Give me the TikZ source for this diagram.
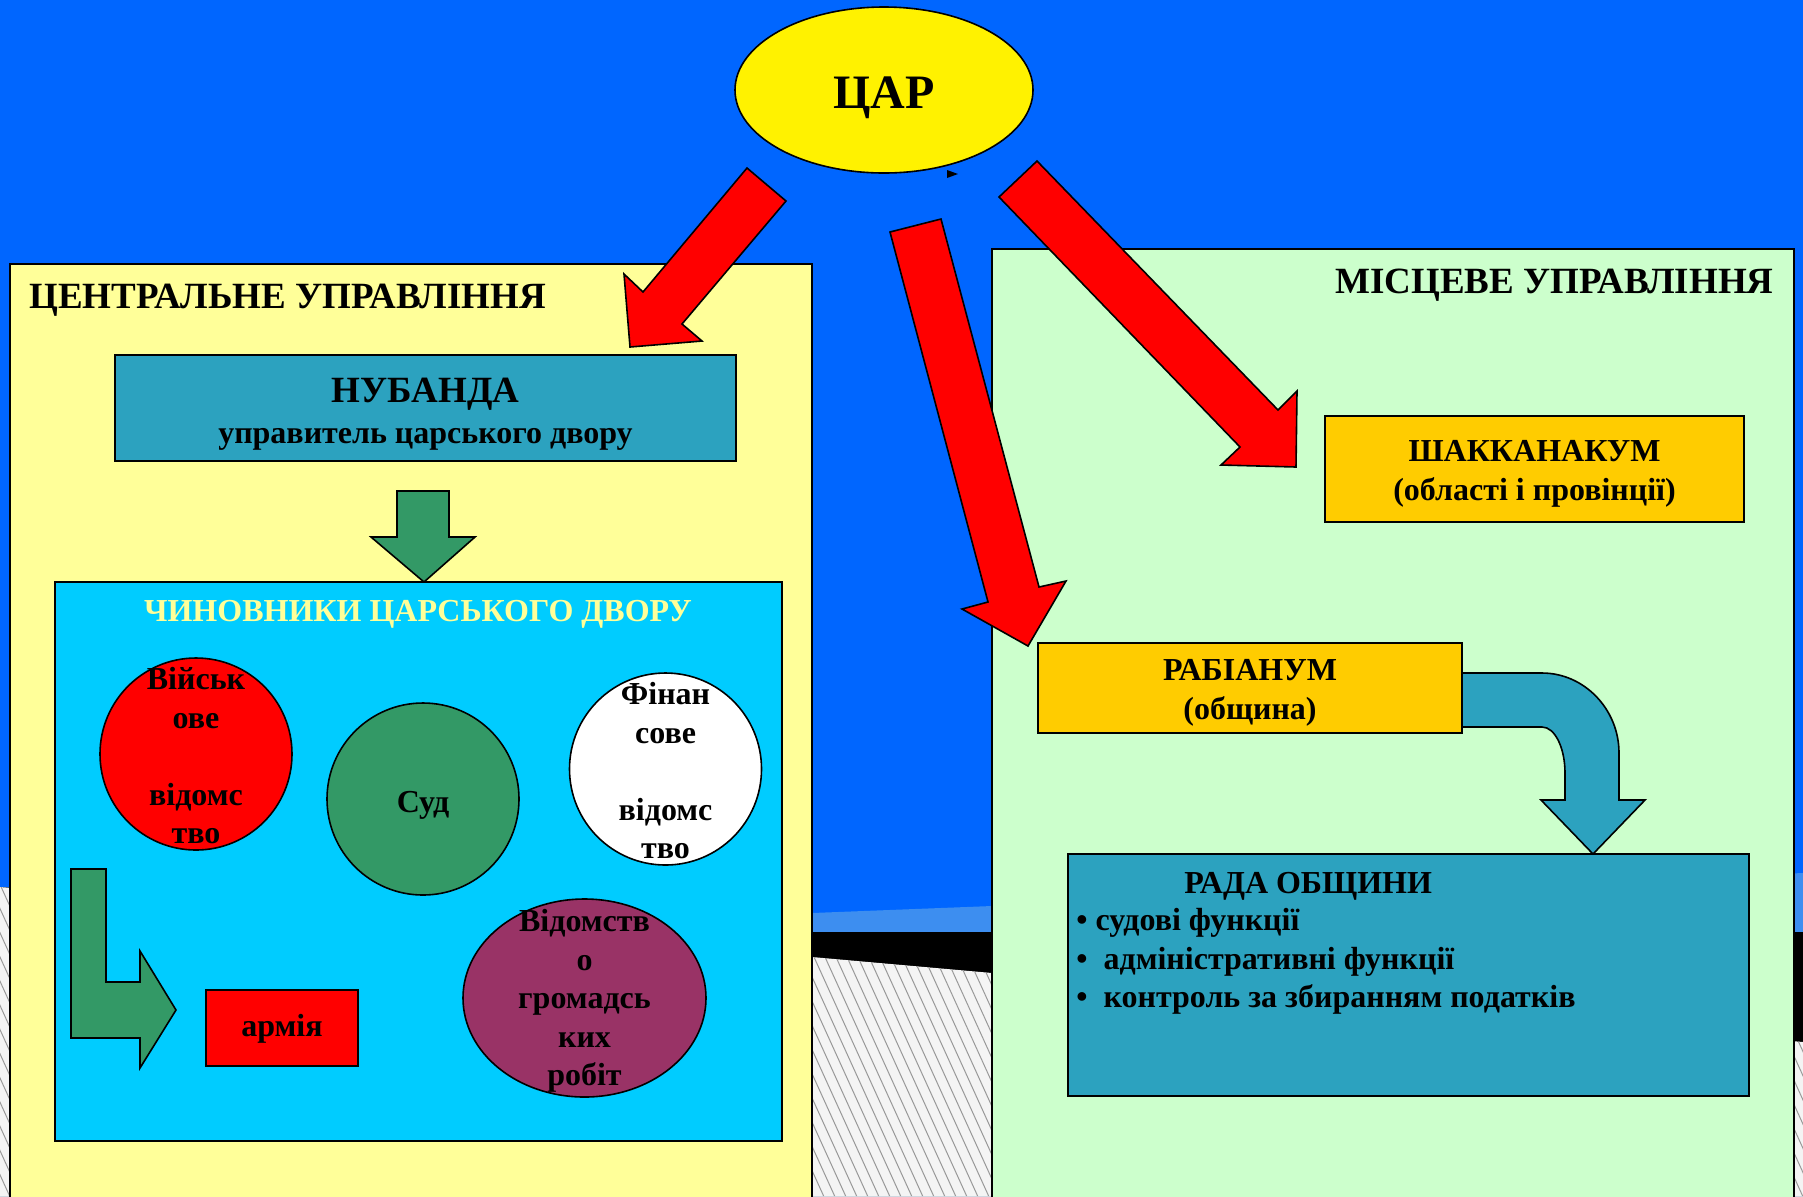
\documentclass[tikz,border=0pt]{standalone}
\usepackage{fontspec}
\setmainfont{Liberation Serif}
\usetikzlibrary{shapes.geometric}

\definecolor{deskblue}{HTML}{0066FF}
\definecolor{bandblue}{RGB}{61,142,240}
\definecolor{hatchgray}{HTML}{F4F4F4}
\definecolor{paleyellow}{HTML}{FFFF99}
\definecolor{palegreen}{HTML}{CCFFCC}
\definecolor{courtteal}{RGB}{44,162,191}
\definecolor{courtcyan}{HTML}{00CCFF}
\definecolor{gold}{HTML}{FFCC00}
\definecolor{seagreen}{HTML}{339966}
\definecolor{plum}{HTML}{993366}

\begin{document}
\begin{tikzpicture}[x=0.5pt,y=-0.5pt,
   panel/.style={draw=black,line width=0.8pt,rectangle,inner sep=0pt},
   plate/.style={draw=black,line width=0.8pt,rectangle,inner sep=0pt},
   unit/.style={draw=black,line width=0.8pt,circle,minimum size=96pt,inner sep=0pt},
   celltext/.style={align=center,inner sep=0pt,font=\bfseries\fontsize{16}{19.25}\selectfont},
   headline/.style={inner sep=0pt,font=\bfseries\fontsize{18.5}{22}\selectfont},
   listline/.style={inner sep=0pt,anchor=base west,font=\bfseries\fontsize{16}{19}\selectfont},
   bigarrow/.style={fill=red,draw=black,line width=0.8pt,line join=miter},
   blockarrow/.style={draw=black,line width=0.8pt,line join=miter}]
   \useasboundingbox (0,0) rectangle (1803,1196);
   \clip (0,0) rectangle (1803,1196);

   % background of the slide
   \fill[deskblue] (0,0) rectangle (1803,1196);
   \fill[bandblue] (0,887) -- (812,913) -- (992,906) -- (1803,873) -- (1803,1196) -- (0,1196) -- cycle;
   \fill[black] (0,887) -- (812,932) -- (992,932) -- (1803,932) -- (1803,1196) -- (0,1196) -- cycle;
   \fill[hatchgray] (0,887) -- (812,957) -- (992,973) -- (1803,1042) -- (1803,1196) -- (0,1196) -- cycle;
   \begin{scope}
      \clip (0,887) -- (812,957) -- (992,973) -- (1803,1042) -- (1803,1196) -- (0,1196) -- cycle;
      \foreach \x in {-200,-189,...,1803}
         \draw[gray!80,line width=0.5pt] (\x,880) -- ++(150,330);
   \end{scope}

   % the two panels
   \node[panel,fill=paleyellow,minimum width=401pt,minimum height=475pt] (central) at (411,739) {};
   \node[panel,fill=palegreen,minimum width=401pt,minimum height=482pt] (local) at (1393,731) {};
   \node[headline,anchor=base west] (centraltitle) at (29,308) {ЦЕНТРАЛЬНЕ УПРАВЛІННЯ};
   \node[headline,anchor=base east] (localtitle) at (1774,293) {МІСЦЕВЕ УПРАВЛІННЯ};

   % the king
   \node[ellipse,draw=black,line width=0.8pt,fill=yellow,minimum width=149pt,minimum height=83pt] (tsar) at (884,90) {};
   \node[anchor=base,inner sep=0pt,font=\bfseries\fontsize{24}{28}\selectfont] at (884,108) {ЦАР};
   \fill[black] (947,170) -- (958,174) -- (947,178) -- cycle;

   % central government
   \node[plate,fill=courtteal,minimum width=310.5pt,minimum height=53pt] (nubanda) at (425.5,408) {};
   \node[headline,anchor=base] at (425.5,402) {НУБАНДА};
   \node[listline,anchor=base] at (425.5,443) {управитель царського двору};
   \draw[blockarrow,fill=seagreen] (397,491) -- (449,491) -- (449,537) -- (475,537) -- (424,582)
        -- (371,537) -- (397,537) -- cycle;
   \node[panel,fill=courtcyan,minimum width=363.5pt,minimum height=279.5pt] (court) at (418.5,861.5) {};
   \node[celltext,text=paleyellow,anchor=base] (courttitle) at (418,621) {ЧИНОВНИКИ ЦАРСЬКОГО ДВОРУ};

   \node[unit,fill=red] (military) at (196,754) {};
   \node[celltext] at (196,756) {Військ\\ове\\\mbox{}\\відомс\\тво};
   \node[unit,fill=seagreen] (judge) at (423,799) {};
   \node[celltext,anchor=base] at (423,812) {Суд};
   \node[unit,fill=white] (finance) at (665.5,769) {};
   \node[celltext] at (665.5,771) {Фінан\\сове\\\mbox{}\\відомс\\тво};
   \node[ellipse,draw=black,line width=0.8pt,fill=plum,minimum width=121.5pt,minimum height=99pt,
         inner sep=0pt] (works) at (584.5,998) {};
   \node[celltext] at (584.5,1001) {Відомств\\о\\громадсь\\ких\\робіт};

   \draw[blockarrow,fill=seagreen] (71,869) -- (106,869) -- (106,982) -- (140,982) -- (140,951)
        -- (176,1010) -- (140,1068) -- (140,1038) -- (71,1038) -- cycle;
   \node[plate,fill=red,minimum width=76pt,minimum height=38pt] (army) at (282,1028) {};
   \node[celltext,anchor=base] at (282,1036) {армія};

   % local government
   \node[plate,fill=gold,minimum width=209.5pt,minimum height=53pt] (shakkanakum) at (1534.5,469) {};
   \node[celltext,anchor=base] at (1534.5,461) {ШАККАНАКУМ};
   \node[celltext,anchor=base] at (1534.5,500) {(області і провінції)};
   \node[plate,fill=gold,minimum width=212pt,minimum height=45pt] (rabianum) at (1250,688) {};
   \node[celltext,anchor=base] at (1250,680) {РАБІАНУМ};
   \node[celltext,anchor=base] at (1250,719) {(община)};
   \node[plate,fill=courtteal,minimum width=340.5pt,minimum height=121pt] (council) at (1408.5,975) {};
   \node[listline] (counciltitle) at (1184,893) {РАДА ОБЩИНИ};
   \node[listline] (duty1) at (1076,930) {• судові функції};
   \node[listline] (duty2) at (1076,969) {•~~адміністративні функції};
   \node[listline] (duty3) at (1076,1007) {•~~контроль за збиранням податків};

   \draw[blockarrow,fill=courtteal] (1462,673) -- (1542,673) .. controls (1584,673) and (1619,709) .. (1619,753)
        -- (1619,800) -- (1645,800) -- (1593,854) -- (1541,800) -- (1565,800) -- (1565,773)
        .. controls (1565,748) and (1555,727) .. (1542,727) -- (1462,727) -- cycle;

   % arrows from the king
   \draw[bigarrow] (747,168) -- (786,201) -- (682,324) -- (702,341) -- (630,347) -- (624,274)
        -- (643,292) -- cycle;
   \draw[bigarrow] (890,232) -- (941,219) -- (1039,587) -- (1066,581) -- (1028,646) -- (962,609)
        -- (988,602) -- cycle;
   \draw[bigarrow] (1037,161) -- (999,197) -- (1240,447) -- (1221,465) -- (1296,467) -- (1297,391)
        -- (1278,410) -- cycle;
\end{tikzpicture}
\end{document}
